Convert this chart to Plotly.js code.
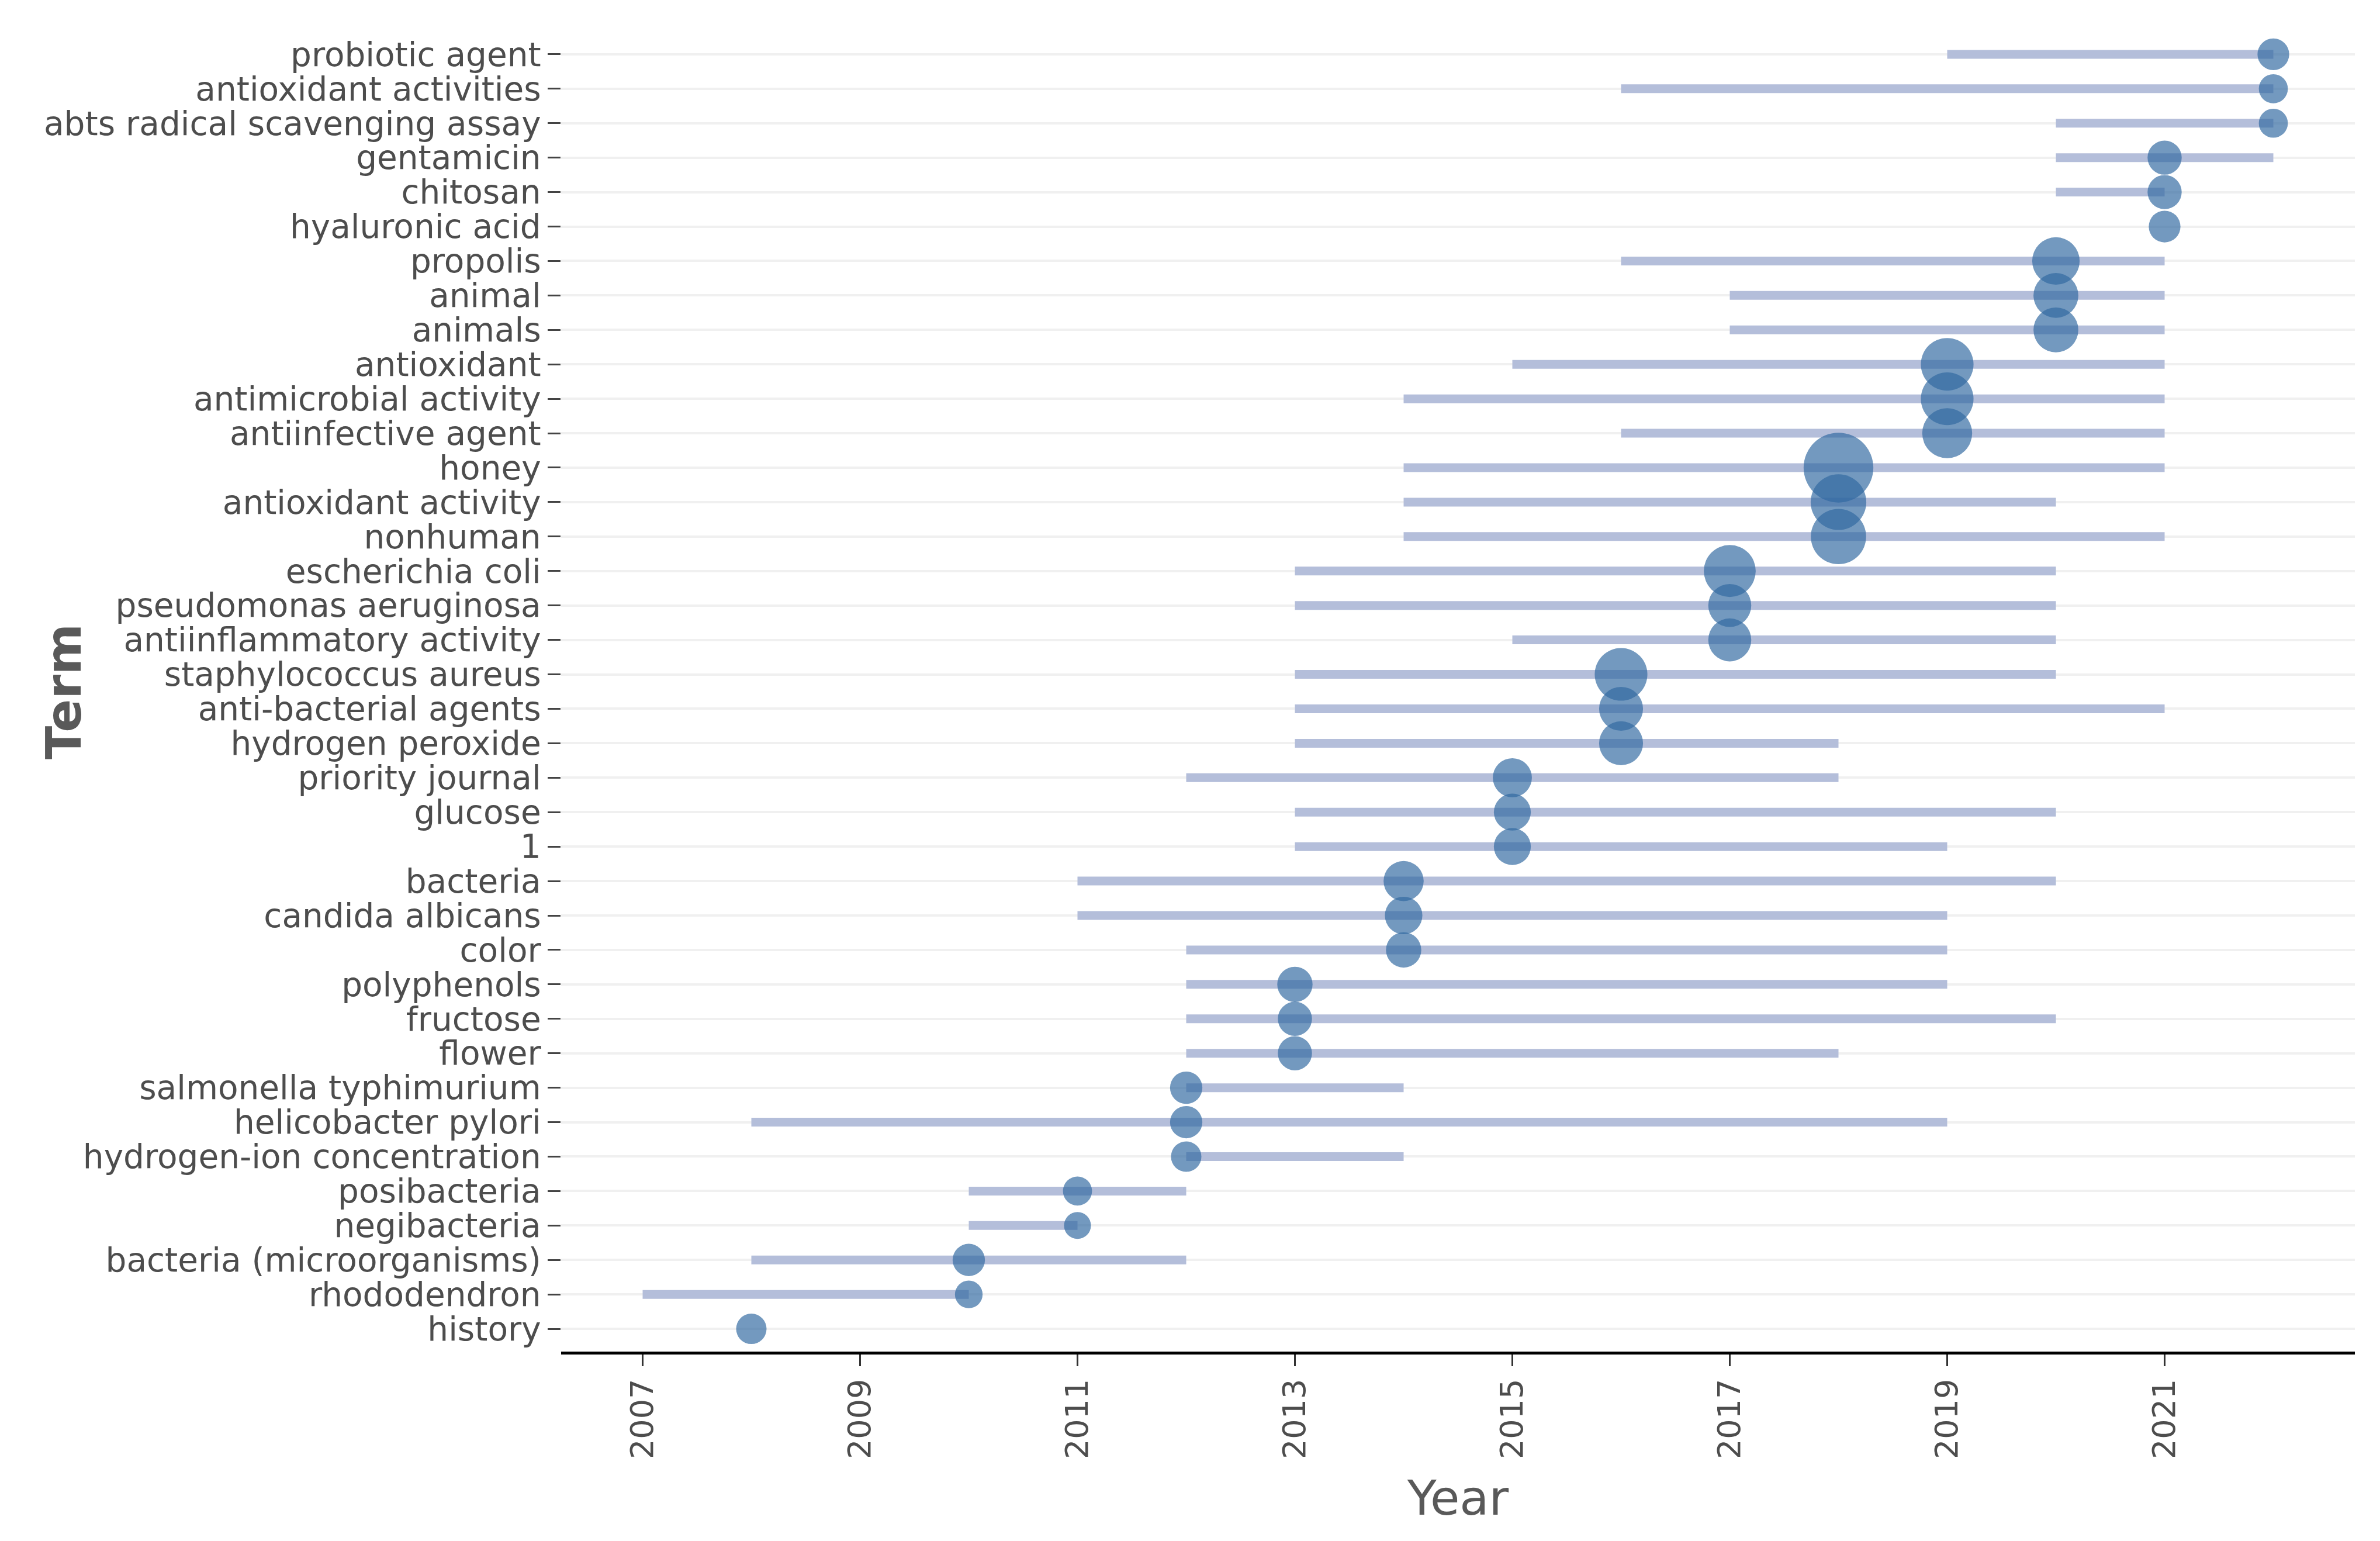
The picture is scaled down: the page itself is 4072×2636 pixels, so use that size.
<!DOCTYPE html>
<html>
<head>
<meta charset="utf-8">
<script src="https://cdn.plot.ly/plotly-3.0.1.min.js"></script>
<style>html,body{margin:0;padding:0;background:#fff;}#chart{width:4072px;height:2636px;}</style>
</head>
<body>
<div id="chart"></div>
<script>
// Terms, top to bottom as shown
const terms = ["probiotic agent","antioxidant activities","abts radical scavenging assay","gentamicin","chitosan","hyaluronic acid","propolis","animal","animals","antioxidant","antimicrobial activity","antiinfective agent","honey","antioxidant activity","nonhuman","escherichia coli","pseudomonas aeruginosa","antiinflammatory activity","staphylococcus aureus","anti-bacterial agents","hydrogen peroxide","priority journal","glucose","1","bacteria","candida albicans","color","polyphenols","fructose","flower","salmonella typhimurium","helicobacter pylori","hydrogen-ion concentration","posibacteria","negibacteria","bacteria (microorganisms)","rhododendron","history"];
// First quartile year
const yearQ1 = [2019,2016,2020,2020,2020,2021,2016,2017,2017,2015,2014,2016,2014,2014,2014,2013,2013,2015,2013,2013,2013,2012,2013,2013,2011,2011,2012,2012,2012,2012,2012,2008,2012,2010,2010,2008,2007,2008];
// Median year
const yearMedian = [2022,2022,2022,2021,2021,2021,2020,2020,2020,2019,2019,2019,2018,2018,2018,2017,2017,2017,2016,2016,2016,2015,2015,2015,2014,2014,2014,2013,2013,2013,2012,2012,2012,2011,2011,2010,2010,2008];
// Third quartile year
const yearQ3 = [2022,2022,2022,2022,2021,2021,2021,2021,2021,2021,2021,2021,2021,2020,2021,2020,2020,2020,2020,2021,2018,2018,2020,2019,2020,2019,2019,2019,2020,2018,2014,2019,2014,2012,2011,2012,2010,2008];
// Term frequency
const freq = [25,21,21,29,29,25,56,50,50,69,69,62,121,77,76,67,46,46,69,48,48,38,34,34,40,35,31,31,29,29,26,26,23,21,18,26,19,23];
// x tick labels
const yearTicks = [2007,2009,2011,2013,2015,2017,2019,2021];

const segX = [], segY = [];
terms.forEach((t, i) => {
  segX.push(yearQ1[i], yearQ3[i], null);
  segY.push(t, t, null);
});

const segments = {
  type: 'scatter', mode: 'lines',
  x: segX, y: segY,
  line: {color: 'rgb(180,190,218)', width: 15},
  hoverinfo: 'skip', showlegend: false
};
const bubbles = {
  type: 'scatter', mode: 'markers',
  x: yearMedian, y: terms,
  marker: {size: freq, sizemode: 'area', sizeref: 0.017, color: 'rgba(48,104,160,0.68)', opacity: 1, line: {width: 0}},
  showlegend: false
};

const fontFam = '"DejaVu Sans", Verdana, sans-serif';
const layout = {
  width: 4072, height: 2636,
  paper_bgcolor: '#ffffff', plot_bgcolor: '#ffffff',
  margin: {l: 960, r: 43, t: 54, b: 324},
  font: {family: fontFam, color: '#4d4d4d'},
  showlegend: false,
  xaxis: {
    range: [2006.25, 2022.75],
    tickmode: 'array', tickvals: yearTicks, ticktext: yearTicks.map(String),
    tickangle: -90,
    tickfont: {size: 54, color: '#4d4d4d', family: fontFam},
    ticks: 'outside', ticklen: 20, tickwidth: 3, tickcolor: '#333',
    showline: true, linecolor: '#000', linewidth: 5,
    showgrid: false, zeroline: false,
    title: {text: 'Year', font: {size: 82, color: '#595959', family: fontFam}, standoff: 40}
  },
  yaxis: {
    type: 'category',
    categoryorder: 'array', categoryarray: terms.slice().reverse(),
    tickmode: 'array', tickvals: terms, ticktext: terms,
    range: [-0.66, terms.length - 1 + 0.66],
    tickfont: {size: 56.5, color: '#4d4d4d', family: fontFam},
    ticks: 'outside', ticklen: 22, tickwidth: 3, tickcolor: '#444',
    showline: false, showgrid: true, gridcolor: '#f0f0f0', gridwidth: 4,
    zeroline: false
  },
  annotations: [{
    text: '<b>Term</b>', xref: 'paper', yref: 'paper',
    x: -0.2773, y: 0.5, xanchor: 'center', yanchor: 'middle',
    textangle: -90, showarrow: false,
    font: {size: 84, color: '#595959', family: fontFam}
  }]
};

Plotly.newPlot('chart', [segments, bubbles], layout, {staticPlot: true});
</script>
</body>
</html>
